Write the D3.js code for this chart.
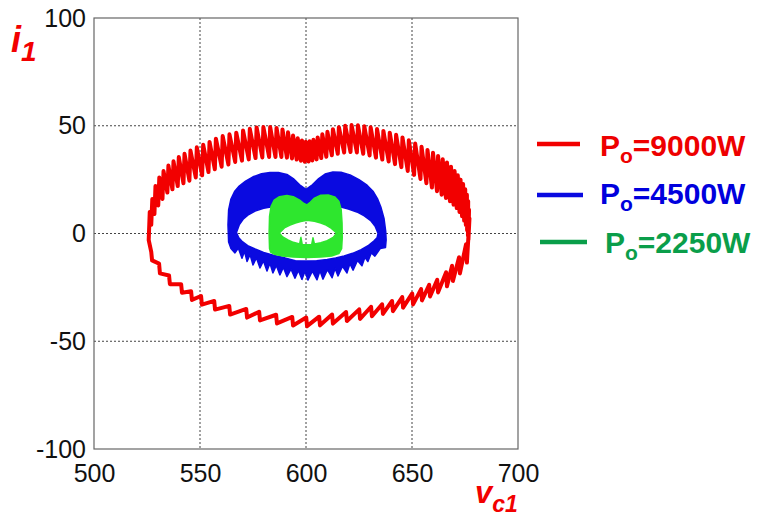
<!DOCTYPE html>
<html>
<head>
<meta charset="utf-8">
<script src="https://cdn.jsdelivr.net/npm/d3@7"></script>
<style>
  body { margin: 0; background: #fff; }
  svg { display: block; font-family: "Liberation Sans", Arial, sans-serif; }
</style>
</head>
<body>
<svg id="chart" width="758" height="517"></svg>
<script>
// ---- axis ticks ----
const xTicks = [500, 550, 600, 650, 700];
const yTicks = [-100, -50, 0, 50, 100];

// ---- legend ----
const legendPower = ["9000W", "4500W", "2250W"];

// ---- Po = 9000 W trajectory (v_c1, i_1) ----
// upper part: ripple teeth, each with a voltage position, a crest and a trough current
const redTopV  = [525.8,527.0,528.5,530.3,532.3,534.6,537.0,539.5,542.2,545.0,548.0,551.0,554.0,557.0,560.2,563.4,566.6,569.8,573.0,576.2,579.4,582.6,585.6,588.4,591.0,593.4,595.6,597.6,599.4,601.2,603.0,605.0,607.2,609.6,612.2,615.0,618.0,621.0,624.0,627.0,630.0,633.0,636.0,639.0,642.0,645.0,648.0,651.0,654.0,656.8,659.4,661.8,664.0,666.0,667.9,669.6,671.1,672.4,673.6,674.6,675.4,676.0,676.4,676.6];
const redTopHi = [10,16,22,26,29,31.5,33.5,35.5,37,38.5,40,41.2,42.5,44,45.2,46,46.8,47.8,48.6,49.2,49.4,49.4,49,48.3,47,45.5,44.2,43.2,42.6,42.8,43.5,44.6,46,47.2,48.4,49.3,50,50.3,50.2,49.8,49.3,48.5,47.6,46.8,45.8,44.6,43.3,41.8,40.3,38.8,37.5,36,34.4,33,31,29,27,25,23,20.5,18,15,11,7];
const redTopLo = [-3,4,9,13,16,19,20.5,22,23.3,24.5,26,27,28.5,29.8,31,32,33.2,33.8,34.4,35,35.3,35.5,35.5,35.5,35.2,34.8,34.3,33.8,33.3,33.4,33.9,34.4,35,35.6,36.3,37,37.6,37.8,37.6,37,36.2,35.2,34.3,33.4,32.2,30.8,29,27.2,25.3,23.3,21.3,19.6,18,16.5,15,13.4,11.8,10,8,6,4,1.5,-1,-3];
// lower part: small sawtooth ripple
const redBotV    = [527.4,531.1,535.8,541.5,546.2,550.9,557.1,564.2,572.2,578.3,586.3,593.9,600.5,606.6,612.7,619.3,625.5,631.1,636.3,641.0,645.8,650.5,654.7,658.5,662.3,666.5,669.3,672.6,675.9];
const redBotLow  = [-12.5,-18.5,-23.5,-27.5,-30.8,-33,-35.3,-37.6,-39,-40.3,-41.7,-42.7,-43,-42.6,-41.8,-40.6,-39.6,-38.4,-37.3,-36,-34.4,-32.9,-31,-29.2,-27.3,-24.5,-22,-18.5,-13.5];
const redBotHigh = [-8.5,-14,-19.5,-23.5,-26.8,-29,-31.3,-33.6,-35,-36.3,-37.7,-38.7,-39,-38.6,-37.6,-36.4,-35.2,-34,-32.8,-31.3,-29.5,-27.8,-25.8,-23.8,-21.5,-18,-15,-11,-5];

// ---- Po = 4500 W trajectory: outer outline and inner opening ----
const blueOuterTop = [[563.5,-4],[563.2,4],[563.5,11],[564.6,16],[566.3,19.5],[568.5,22],[571.5,24.3],[575,26.3],[579,27.7],[583,28.3],[587,28.3],[591,27.4],[594,25.5],[597,22.6],[600,20.5],[603,22.6],[606,25.5],[609,27.6],[612.7,28.5],[616.5,28.4],[620.8,27.2],[625,25],[628.8,22.4],[631.6,19.6],[633.7,16.2],[635.4,12],[636.8,7],[637.6,1],[637.8,-3],[637.5,-6.5]];
// lower ripple edge, right to left: alternating gap and tooth tip
const blueOuterBottom = [[635,-7],[632.5,-10.5],[630.8,-9],[629.2,-13],[627.8,-11],[626.4,-15],[624.3,-12.5],[622.2,-17],[620.7,-14],[619.3,-18.3],[617.2,-15.2],[615.1,-19.7],[613.7,-16.2],[612.3,-20.5],[610.1,-16.8],[608,-21.2],[606.6,-17.3],[605.2,-21.5],[603,-17.5],[600.9,-21.6],[599.5,-17.5],[598.1,-21.3],[596.4,-17.1],[594.8,-20.8],[592.9,-16.5],[591,-20],[589.3,-15.7],[587.7,-19.2],[586,-14.8],[584.4,-18.3],[583,-13.8],[581.6,-17.4],[579.9,-12.7],[578.3,-16],[576.6,-11.3],[575,-14.6],[573.6,-9.8],[572.2,-13],[571,-8.3],[569.8,-11.5],[568.1,-6.8],[566.5,-9],[564.6,-7]];
const blueHole = [[567.2,0.5],[568.5,4],[570.5,6.8],[573,8.8],[576,10.4],[580,11.7],[584,12.4],[588,12.8],[592,12.6],[596,12],[600,11.6],[604,12],[608,12.6],[612,12.8],[616,12.4],[620,11.4],[624,10],[627.5,8.2],[630.5,6],[632.7,3.2],[634,0],[633.5,-2],[632,-3.5],[629.5,-5.5],[626,-7.5],[622,-9.2],[618,-10.4],[614,-11.4],[610,-12.1],[605,-12.6],[600,-12.8],[595,-12.6],[590,-11.3],[585,-10.2],[580,-8.8],[576,-7.2],[572.5,-5.6],[570,-3.8],[568.3,-2]];

// ---- Po = 2250 W trajectory: outer outline and inner opening ----
const greenOuter = [[582.8,-7],[582.6,0],[582.8,8],[583.5,12.5],[585,15.5],[587.5,17.1],[591,17.6],[594,17.1],[597,15.5],[599,13.9],[600.5,13.3],[602,14.5],[604,16.4],[607,17.8],[610.5,17.9],[613.5,17],[615.5,15],[616.6,11],[617,5],[617.1,-2],[616.8,-7],[615.5,-9.3],[612,-10.4],[607,-10.9],[600.5,-11.1],[594,-10.9],[589,-10.4],[585,-9.6],[583.3,-8.6]];
const greenHole = [[587.4,0.2],[589.8,2.6],[592.5,3.9],[595,4.9],[597.5,5.6],[600.5,6.1],[604,5.7],[607,4.9],[609.5,3.9],[612,2.4],[614.5,0.2],[612.8,-1.8],[610,-3.3],[607,-4.3],[604,-4.9],[603.3,-2],[602.7,-5.1],[600.5,-5.2],[598.2,-5.1],[597.6,-1.8],[597,-4.9],[594,-4.1],[591.5,-3],[589,-1.6]];

// ---- colours ----
const RED = "#f20000", BLUE = "#0a0ae0", GREEN = "#2ee62e", LEG_GREEN = "#0a9e4a";

// ---- scales ----
const x = d3.scaleLinear().domain([500, 700]).range([94, 518]);
const y = d3.scaleLinear().domain([-100, 100]).range([449, 18]);

const svg = d3.select("#chart");

// grid lines
const grid = svg.append("g").attr("stroke", "#444").attr("stroke-width", 1).attr("stroke-dasharray", "2,2");
grid.selectAll(".gx").data(xTicks.slice(1, -1)).join("line")
  .attr("x1", d => x(d)).attr("x2", d => x(d)).attr("y1", y(100)).attr("y2", y(-100));
grid.selectAll(".gy").data(yTicks.slice(1, -1)).join("line")
  .attr("x1", x(500)).attr("x2", x(700)).attr("y1", d => y(d)).attr("y2", d => y(d));

// frame
svg.append("rect")
  .attr("x", x(500)).attr("y", y(100))
  .attr("width", x(700) - x(500)).attr("height", y(-100) - y(100))
  .attr("fill", "none").attr("stroke", "#666").attr("stroke-width", 1.2);

// axes (plain hyphen for negative numbers)
const fmt = d => String(d);
const xAxis = svg.append("g").attr("transform", `translate(0,${y(-100)})`)
  .call(d3.axisBottom(x).tickValues(xTicks).tickFormat(fmt).tickSize(0).tickPadding(15));
const yAxis = svg.append("g").attr("transform", `translate(${x(500)},0)`)
  .call(d3.axisLeft(y).tickValues(yTicks).tickFormat(fmt).tickSize(0).tickPadding(8));
[xAxis, yAxis].forEach(g => {
  g.select(".domain").remove();
  g.selectAll("text").attr("font-size", 25).attr("font-family", "Liberation Sans, Arial, sans-serif").attr("fill", "#111");
});

const line = d3.line().x(d => x(d[0])).y(d => y(d[1]));

// 9000 W: ripple band on top, sawtooth underneath, one closed trajectory
const redPts = [];
redTopV.forEach((v, k) => { redPts.push([v, redTopLo[k]]); redPts.push([v + 0.5, redTopHi[k]]); });
for (let k = redBotV.length - 1; k >= 0; k--) {
  redPts.push([redBotV[k], redBotLow[k]]);
  redPts.push([redBotV[k] - 0.4, redBotHigh[k]]);
}
svg.append("path").attr("d", line(redPts) + "Z")
  .attr("fill", "none").attr("stroke", RED).attr("stroke-width", 4)
  .attr("stroke-linejoin", "round");

// 4500 W band
const blueOutline = blueOuterTop.concat(blueOuterBottom);
svg.append("path").attr("d", line(blueOutline) + "Z" + line(blueHole) + "Z")
  .attr("fill", BLUE).attr("fill-rule", "evenodd")
  .attr("stroke", BLUE).attr("stroke-width", 1.5).attr("stroke-linejoin", "round");

// 2250 W band
svg.append("path").attr("d", line(greenOuter) + "Z" + line(greenHole) + "Z")
  .attr("fill", GREEN).attr("fill-rule", "evenodd")
  .attr("stroke", GREEN).attr("stroke-width", 1.5).attr("stroke-linejoin", "round");

// legend
const legendColors = [RED, BLUE, LEG_GREEN];
const legendTextColors = ["#ee0000", "#0000dd", LEG_GREEN];
const legendRows = [
  { x1: 537, x2: 580, ly: 144, tx: 600, ty: 156 },
  { x1: 537, x2: 583, ly: 195, tx: 600, ty: 204 },
  { x1: 540, x2: 587, ly: 242, tx: 605, ty: 253 }
];
const leg = svg.append("g");
legendPower.forEach((p, k) => {
  const r = legendRows[k];
  leg.append("line").attr("x1", r.x1).attr("x2", r.x2).attr("y1", r.ly).attr("y2", r.ly)
    .attr("stroke", legendColors[k]).attr("stroke-width", 4.5);
  const t = leg.append("text").attr("x", r.tx).attr("y", r.ty)
    .attr("fill", legendTextColors[k]).attr("font-weight", "bold").attr("font-size", 30);
  t.append("tspan").text("P");
  t.append("tspan").attr("font-size", 21).attr("dy", 7).text("o");
  t.append("tspan").attr("dy", -7).text("=" + p);
});

// axis titles
const yt = svg.append("text").attr("x", 11).attr("y", 52)
  .attr("fill", RED).attr("font-weight", "bold").attr("font-style", "italic").attr("font-size", 36);
yt.append("tspan").text("i");
yt.append("tspan").attr("font-size", 28).attr("dy", 9).text("1");

const xt = svg.append("text").attr("x", 475).attr("y", 503)
  .attr("fill", RED).attr("font-weight", "bold").attr("font-style", "italic").attr("font-size", 31);
xt.append("tspan").text("v");
xt.append("tspan").attr("font-size", 23).attr("dy", 9).text("c1");
</script>
</body>
</html>
